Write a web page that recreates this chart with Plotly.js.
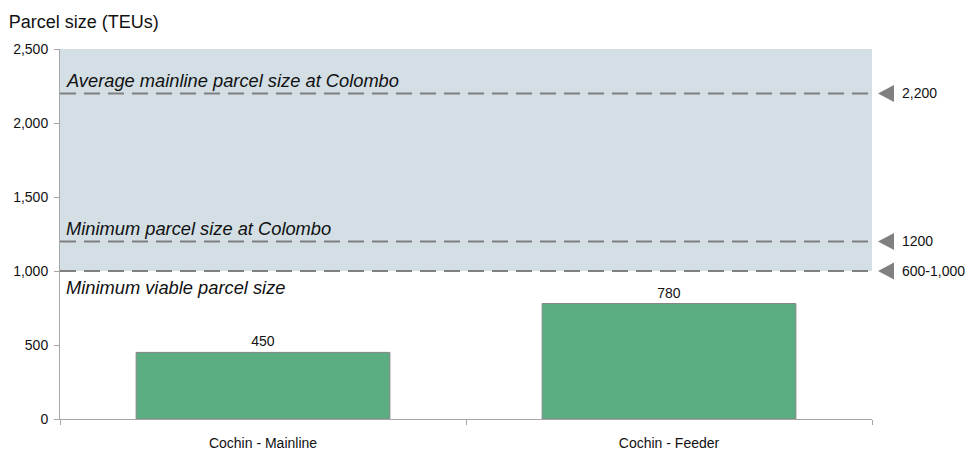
<!DOCTYPE html>
<html>
<head>
<meta charset="utf-8">
<script src="https://cdn.plot.ly/plotly-3.0.1.min.js"></script>
<style>html,body{margin:0;padding:0;background:#fff;}#chart{width:968px;height:450px;}</style>
</head>
<body>
<div id="chart"></div>
<script>
const categories = ["Cochin - Mainline", "Cochin - Feeder"];
const parcelSizes = [450, 780];
const refValues = [2200, 1200, 1000];
const refTickLabels = ["2,200", "1200", "600-1,000"];
const refNames = ["Average mainline parcel size at Colombo", "Minimum parcel size at Colombo", "Minimum viable parcel size"];
const refNamePlacement = ["above", "above", "below"];
const bandRange = [1000, 2500];
const yTicks = [0, 500, 1000, 1500, 2000, 2500];

const FONT = "Liberation Sans, Arial, sans-serif";
const W = 968, H = 450;
const M = {l: 60, r: 96, t: 49, b: 31};
const plotW = W - M.l - M.r, plotH = H - M.t - M.b;
const yMax = 2500;
const unitsPerPx = yMax / plotH;
const pxToPaperX = px => (px - M.l) / plotW;

const bars = {
  type: "bar",
  x: categories,
  y: parcelSizes,
  width: 0.625,
  marker: {color: "#5bae82", line: {color: "#858585", width: 1}},
  text: parcelSizes.map(String),
  textposition: "outside",
  textfont: {family: FONT, size: 14, color: "#111"},
  cliponaxis: false,
  hoverinfo: "x+y",
  showlegend: false
};

// left-pointing triangles beside the plot, one per reference value
const triX0 = pxToPaperX(878), triX1 = pxToPaperX(894), triHalf = 8.5 * unitsPerPx;
const triangleShapes = refValues.map(v => ({
  type: "path", xref: "paper", yref: "y",
  path: `M ${triX0},${v} L ${triX1},${v + triHalf} L ${triX1},${v - triHalf} Z`,
  fillcolor: "#808080", line: {width: 0}, layer: "above"
}));

const shapes = [
  {type: "rect", xref: "paper", yref: "y", x0: 0, x1: 1, y0: bandRange[0], y1: bandRange[1],
   fillcolor: "#d3dfe5", line: {width: 0}, layer: "below"}
].concat(refValues.map(v => ({
  type: "line", xref: "paper", yref: "y", x0: 0, x1: 1, y0: v, y1: v,
  line: {color: "#808080", width: 2, dash: "16px,8px"}, layer: "above"
}))).concat(triangleShapes);

const annotations = refValues.map((v, i) => ({
  xref: "paper", yref: "y", x: pxToPaperX(900), y: v, xanchor: "left", yanchor: "middle",
  text: refTickLabels[i], showarrow: false,
  font: {family: FONT, size: 14, color: "#111"}
})).concat(refNames.map((n, i) => ({
  xref: "paper", yref: "y", x: pxToPaperX(64), y: refValues[i],
  xanchor: "left", yanchor: refNamePlacement[i] === "above" ? "bottom" : "top",
  yshift: refNamePlacement[i] === "above" ? 0 : -4,
  text: "<i>" + n + "</i>", showarrow: false,
  font: {family: FONT, size: 18.3, color: "#111"}
})));

const layout = {
  width: W, height: H,
  margin: M,
  paper_bgcolor: "#ffffff",
  plot_bgcolor: "rgba(0,0,0,0)",
  font: {family: FONT, size: 14, color: "#111"},
  title: {text: "Parcel size (TEUs)", x: 0.009, xref: "container", xanchor: "left",
          y: 1 - 22 / H, yref: "container", yanchor: "middle",
          font: {family: FONT, size: 18, color: "#111"}},
  xaxis: {
    type: "category", range: [-0.5, 1.5],
    showline: true, linecolor: "#a6a6a6", linewidth: 1,
    ticks: "outside", tickson: "boundaries", ticklen: 5, tickcolor: "#a6a6a6",
    ticklabelstandoff: 11,
    showgrid: false, zeroline: false,
    tickfont: {family: FONT, size: 14, color: "#111"}
  },
  yaxis: {
    range: [0, yMax], tickvals: yTicks, tickformat: ",",
    showline: true, linecolor: "#a6a6a6", linewidth: 1,
    ticks: "outside", ticklen: 5, tickcolor: "#a6a6a6",
    ticklabelstandoff: 3,
    showgrid: false, zeroline: false,
    tickfont: {family: FONT, size: 14, color: "#111"}
  },
  shapes: shapes,
  annotations: annotations
};

Plotly.newPlot("chart", [bars], layout, {displayModeBar: false, staticPlot: true});
</script>
</body>
</html>
